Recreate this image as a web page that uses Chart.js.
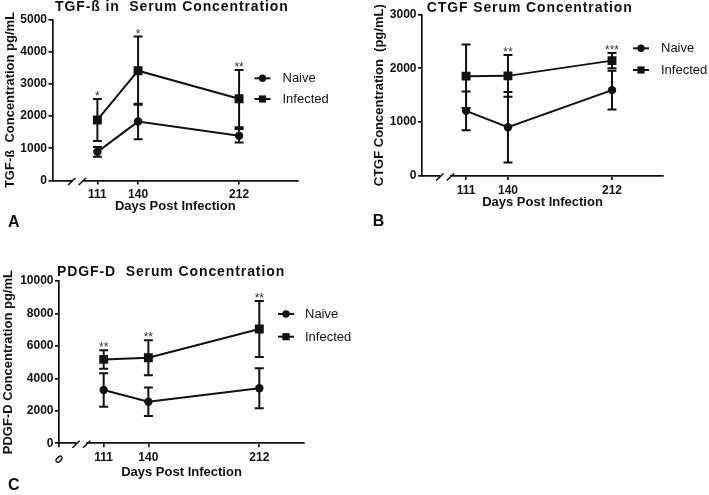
<!DOCTYPE html>
<html><head><meta charset="utf-8">
<script src="https://cdn.jsdelivr.net/npm/chart.js@4.4.0/dist/chart.umd.min.js"></script>
<style>
html,body{margin:0;padding:0;background:#fff;}
#wrap{position:relative;width:709px;height:495px;overflow:hidden;background:#fff;}
canvas{position:absolute;}
</style></head><body>
<div id="wrap">
<canvas id="cA" width="360" height="240" style="left:0px;top:0px"></canvas>
<canvas id="cB" width="349" height="240" style="left:360px;top:0px"></canvas>
<canvas id="cC" width="360" height="255" style="left:0px;top:240px"></canvas>
</div>
<script>
// ---- data ----
const days = [111, 140, 212];
const xTickLabels = ['111', '140', '212'];
const seriesNames = ['Naive', 'Infected'];
const xAxisTitle = 'Days Post Infection';

// Panel A: TGF-ß
const naiveA = [890, 1830, 1390];
const naiveAErr = [150, 550, 210];
const infectedA = [1880, 3410, 2540];
const infectedAErr = [650, 1060, 890];
const sigA = ['*', '*', '**'];

// Panel B: CTGF
const naiveB = [1210, 905, 1595];
const naiveBErr = [360, 655, 360];
const infectedB = [1855, 1860, 2143];
const infectedBErr = [590, 390, 140];
const sigB = ['', '**', '***'];

// Panel C: PDGF-D
const naiveC = [3280, 2560, 3390];
const naiveCErr = [1030, 885, 1230];
const infectedC = [5170, 5270, 7040];
const infectedCErr = [570, 1080, 1730];
const sigC = ['**', '**', '**'];

const FONT = "'Liberation Sans', Arial, Helvetica, sans-serif";
const INK = '#111';

const decor = {
  id: 'decor',
  beforeDatasetsDraw(chart, args, o) {
    const ctx = chart.ctx, x = chart.scales.x, y = chart.scales.y;
    ctx.save();
    ctx.strokeStyle = INK; ctx.lineWidth = 2;
    chart.data.datasets.forEach(ds => {
      ds.data.forEach((p, i) => {
        const e = ds.errors[i];
        const px = x.getPixelForValue(p.x);
        const top = y.getPixelForValue(p.y + e), bot = y.getPixelForValue(p.y - e);
        ctx.beginPath();
        ctx.moveTo(px, top); ctx.lineTo(px, bot);
        ctx.moveTo(px - 4.5, top); ctx.lineTo(px + 4.5, top);
        ctx.moveTo(px - 4.5, bot); ctx.lineTo(px + 4.5, bot);
        ctx.stroke();
      });
    });
    ctx.restore();
  },
  afterDraw(chart, args, o) {
    const ctx = chart.ctx, x = chart.scales.x, y = chart.scales.y;
    const ay = chart.chartArea.bottom;
    ctx.save();
    // axis break
    const bp = x.getPixelForValue(o.breakAt);
    ctx.fillStyle = '#fff';
    ctx.fillRect(bp - 5, ay - 2, 10, 4);
    ctx.strokeStyle = INK; ctx.lineWidth = 1.6;
    [-5.3, 5.3].forEach(d => {
      ctx.beginPath();
      ctx.moveTo(bp + d - 3.6, ay + 4.5);
      ctx.lineTo(bp + d + 3.6, ay - 2.5);
      ctx.stroke();
    });
    // significance marks
    ctx.fillStyle = '#333';
    ctx.font = `12px ${FONT}`;
    ctx.textAlign = 'center'; ctx.textBaseline = 'alphabetic';
    const inf = chart.data.datasets[1];
    o.sig.forEach((s, i) => {
      if (!s) return;
      const p = inf.data[i];
      const px = x.getPixelForValue(p.x);
      const py = y.getPixelForValue(p.y + inf.errors[i]);
      ctx.fillText(s, px, py + 1);
    });
    // title
    ctx.fillStyle = INK;
    ctx.font = `bold 14px ${FONT}`;
    ctx.textAlign = 'left'; ctx.textBaseline = 'middle';
    try { ctx.letterSpacing = '0.9px'; } catch (e) {}
    ctx.fillText(o.title, o.titleX, o.titleY);
    try { ctx.letterSpacing = '0px'; } catch (e) {}
    // panel letter
    ctx.font = `bold 16px ${FONT}`;
    ctx.fillText(o.letter, o.letterX, o.letterY);
    // legend
    const L = o.legend;
    chart.data.datasets.forEach((ds, i) => {
      const ly = L.ys[i];
      ctx.strokeStyle = INK; ctx.lineWidth = 2;
      ctx.beginPath(); ctx.moveTo(L.cx - 8, ly); ctx.lineTo(L.cx + 8, ly); ctx.stroke();
      ctx.fillStyle = INK;
      if (ds.pointStyle === 'rect') { ctx.fillRect(L.cx - 3.6, ly - 3.6, 7.2, 7.2); }
      else { ctx.beginPath(); ctx.arc(L.cx, ly, 3.7, 0, Math.PI * 2); ctx.fill(); }
      ctx.font = `13px ${FONT}`;
      ctx.textAlign = 'left'; ctx.textBaseline = 'middle';
      ctx.fillText(ds.label, L.textX, ly + 0.5);
    });
    // rotated zero label
    if (o.zeroLabel) {
      ctx.save();
      ctx.translate(x.getPixelForValue(x.min) - 0.5, ay + 16.5);
      ctx.rotate(Math.PI / 4);
      ctx.font = `bold 12px ${FONT}`;
      ctx.textAlign = 'center'; ctx.textBaseline = 'middle';
      ctx.fillText('0', 0, 0);
      ctx.restore();
    }
    ctx.restore();
  }
};

function makeChart(id, p) {
  const pts = arr => arr.map((v, i) => ({ x: days[i], y: v }));
  const ds = (label, vals, errs, style, r) => ({
    label, data: pts(vals), errors: errs,
    borderColor: INK, backgroundColor: INK, borderWidth: 2,
    pointStyle: style, pointRadius: r, pointHoverRadius: r,
    pointBackgroundColor: INK, pointBorderColor: INK, pointBorderWidth: 0,
    tension: 0, fill: false
  });
  return new Chart(document.getElementById(id), {
    type: 'line',
    data: {
      datasets: [
        ds(seriesNames[0], p.naive, p.naiveErr, 'circle', 4.2),
        ds(seriesNames[1], p.infected, p.infectedErr, 'rect', 6.3)
      ]
    },
    options: {
      responsive: false, animation: false, events: [],
      layout: { padding: { top: p.pad[0], right: p.pad[1], bottom: p.pad[2], left: 0 } },
      scales: {
        x: {
          type: 'linear', min: p.xmin, max: p.xmax,
          afterBuildTicks: s => {
            const t = days.map(v => ({ value: v }));
            if (p.zeroLabel) t.unshift({ value: p.xmin });
            s.ticks = t;
          },
          afterFit: s => { s.height = p.xh; },
          ticks: {
            autoSkip: false, maxRotation: 0, minRotation: 0, padding: 3,
            color: INK, font: { family: FONT, size: 12, weight: 'bold' },
            callback: v => { const k = days.indexOf(v); return k >= 0 ? xTickLabels[k] : ''; }
          },
          grid: { drawOnChartArea: false, tickLength: 4, color: INK, lineWidth: 1.7 },
          border: { color: INK, width: 1.7 },
          title: { display: true, text: xAxisTitle, color: INK, padding: { top: 0, bottom: 0 },
                   font: { family: FONT, size: 13, weight: 'bold' } }
        },
        y: {
          min: 0, max: p.ymax,
          afterFit: s => { s.width = p.yw; },
          ticks: { stepSize: p.step, padding: 1.5, color: INK,
                   callback: v => String(v),
                   font: { family: FONT, size: 12, weight: 'bold' } },
          grid: { drawOnChartArea: false, tickLength: 4, color: INK, lineWidth: 1.7 },
          border: { color: INK, width: 1.7 },
          title: { display: true, text: p.yTitle, color: INK, padding: { top: p.ytp, bottom: 0 },
                   font: { family: FONT, size: 13, weight: 'bold' } }
        }
      },
      plugins: {
        legend: { display: false },
        tooltip: { enabled: false },
        decor: {
          breakAt: 96.5, sig: p.sig, title: p.title, titleX: p.titleX, titleY: p.titleY,
          letter: p.letter, letterX: p.letterX, letterY: p.letterY,
          legend: p.legend, zeroLabel: !!p.zeroLabel
        }
      }
    },
    plugins: [decor]
  });
}

makeChart('cA', {
  naive: naiveA, naiveErr: naiveAErr, infected: infectedA, infectedErr: infectedAErr, sig: sigA,
  xmin: 79, xmax: 254, ymax: 5000, step: 1000,
  pad: [19.5, 62, 26.2], xh: 33.3, yw: 52.5, ytp: 2.2,
  yTitle: 'TGF-ß  Concentration pg/mL',
  title: 'TGF-ß in  Serum Concentration', titleX: 55, titleY: 7.5,
  letter: 'A', letterX: 8, letterY: 222.5,
  legend: { cx: 262.5, ys: [78.3, 99], textX: 282.5 }
});

makeChart('cB', {
  naive: naiveB, naiveErr: naiveBErr, infected: infectedB, infectedErr: infectedBErr, sig: sigB,
  xmin: 80.5, xmax: 247.3, ymax: 3000, step: 1000,
  pad: [14.5, 46, 29.7], xh: 34.3, yw: 62, ytp: 11.2,
  yTitle: 'CTGF Concentration  (pg/mL)',
  title: 'CTGF Serum Concentration', titleX: 66.7, titleY: 8,
  letter: 'B', letterX: 12.7, letterY: 222,
  legend: { cx: 281, ys: [48.3, 70], textX: 301 }
});

makeChart('cC', {
  naive: naiveC, naiveErr: naiveCErr, infected: infectedC, infectedErr: infectedCErr, sig: sigC,
  xmin: 82, xmax: 241, ymax: 10000, step: 2000,
  pad: [41, 56, 14.9], xh: 36.8, yw: 59, ytp: 0.5,
  yTitle: 'PDGF-D Concentration pg/mL',
  title: 'PDGF-D  Serum Concentration', titleX: 57, titleY: 31.7,
  letter: 'C', letterX: 8, letterY: 246,
  legend: { cx: 286, ys: [74, 96.7], textX: 305 },
  zeroLabel: true
});
</script>
</body></html>
